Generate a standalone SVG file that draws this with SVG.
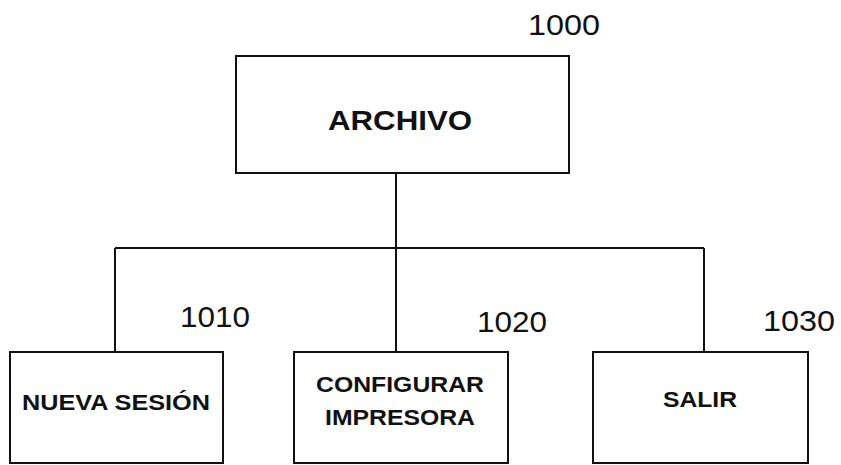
<svg xmlns="http://www.w3.org/2000/svg" width="841" height="465" viewBox="0 0 841 465">
<style>
.box{fill:#fff;stroke:#111;stroke-width:2}
.lbl{font-family:"Liberation Sans",Arial,sans-serif;font-weight:bold;fill:#111;text-anchor:middle}
.num{font-family:"Liberation Sans",Arial,sans-serif;fill:#111;font-size:30px}
.con{fill:none;stroke:#111;stroke-width:2}
</style>
<rect width="841" height="465" fill="#fff"/>
<g id="connectors">
<path class="con" d="M396 173V248M115 248H704M115 248V352M396 248V352M704 248V352"/>
</g>
<g id="n1000">
<rect class="box" x="236" y="56" width="333" height="117"/>
<text class="lbl" x="400" y="130" font-size="28" textLength="144" lengthAdjust="spacingAndGlyphs">ARCHIVO</text>
<text class="num" x="528" y="35" textLength="72" lengthAdjust="spacingAndGlyphs">1000</text>
</g>
<g id="n1010">
<rect class="box" x="10" y="352" width="213" height="111"/>
<text class="lbl" x="116" y="410" font-size="22" textLength="188" lengthAdjust="spacingAndGlyphs">NUEVA SESIÓN</text>
<text class="num" x="180" y="327" textLength="70" lengthAdjust="spacingAndGlyphs">1010</text>
</g>
<g id="n1020">
<rect class="box" x="294" y="352" width="214" height="111"/>
<text class="lbl" x="400" y="392" font-size="22" textLength="168" lengthAdjust="spacingAndGlyphs">CONFIGURAR</text>
<text class="lbl" x="400" y="425" font-size="22" textLength="150" lengthAdjust="spacingAndGlyphs">IMPRESORA</text>
<text class="num" x="477" y="332" textLength="70" lengthAdjust="spacingAndGlyphs">1020</text>
</g>
<g id="n1030">
<rect class="box" x="593" y="352" width="215" height="111"/>
<text class="lbl" x="700" y="407" font-size="22" textLength="74" lengthAdjust="spacingAndGlyphs">SALIR</text>
<text class="num" x="763" y="331" textLength="72" lengthAdjust="spacingAndGlyphs">1030</text>
</g>
</svg>
